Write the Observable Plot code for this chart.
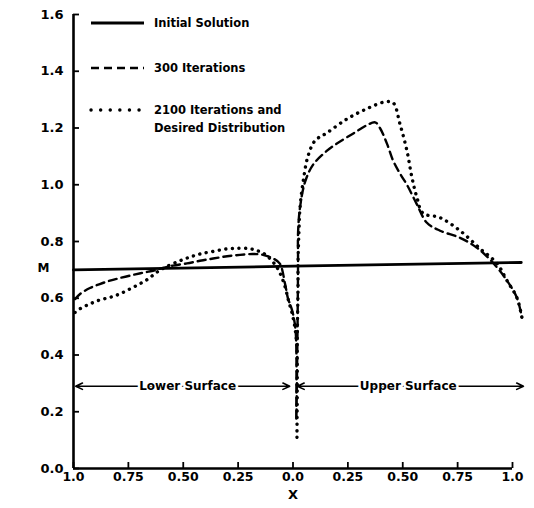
<!DOCTYPE html>
<html><head><meta charset="utf-8">
<script src="https://cdn.jsdelivr.net/npm/d3@7"></script>
<script src="https://cdn.jsdelivr.net/npm/@observablehq/plot@0.6"></script>
<style>
body{margin:0;background:#fff;}
#chart{position:relative;width:534px;height:508px;font-family:"DejaVu Sans",sans-serif;font-weight:bold;color:#000;}
#legend{position:absolute;left:0;top:0;width:534px;height:200px;pointer-events:none;}
.item{position:absolute;left:88px;display:flex;align-items:flex-start;font-size:11.5px;line-height:18px;}
.item svg{flex:none;margin-right:8px;}
</style></head><body>
<div id="chart"><div id="legend"></div></div>
<script>
// axis ticks
const xTicks = [-1, -0.75, -0.5, -0.25, 0, 0.25, 0.5, 0.75, 1];
const xTickLabels = ["1.0", "0.75", "0.50", "0.25", "0.0", "0.25", "0.50", "0.75", "1.0"];
const yTicks = [0, 0.2, 0.4, 0.6, 0.8, 1.0, 1.2, 1.4, 1.6];
const yTickLabels = ["0.0", "0.2", "0.4", "0.6", "0.8", "1.0", "1.2", "1.4", "1.6"];
const xDomain = [-1, 1];
const yDomain = [0, 1.6];
const xLabel = "X";
const yLabel = "M";

// series (x < 0: lower surface, x > 0: upper surface)
const seriesNames = ["Initial Solution", "300 Iterations", "2100 Iterations and|Desired Distribution"];
const initialSolution = [[-1, 0.700], [0, 0.713], [1.04, 0.726]];
const iterations300 = [
  [-0.993,0.597],[-0.97,0.615],[-0.925,0.636],[-0.88,0.65],[-0.834,0.662],[-0.79,0.671],[-0.73,0.682],
  [-0.683,0.69],[-0.638,0.697],[-0.592,0.707],[-0.547,0.715],[-0.483,0.723],[-0.424,0.732],[-0.364,0.74],
  [-0.30,0.748],[-0.241,0.753],[-0.182,0.756],[-0.137,0.753],[-0.09,0.74],[-0.06,0.722],[-0.036,0.65],
  [-0.023,0.60],[-0.005,0.56],[0.01,0.50],[0.015,0.43],[0.015,0.17],[0.02,0.45],[0.023,0.73],[0.023,0.83],
  [0.032,0.92],[0.055,1.01],[0.091,1.07],[0.155,1.12],[0.20,1.145],[0.273,1.18],[0.337,1.21],[0.374,1.22],
  [0.396,1.20],[0.428,1.145],[0.456,1.085],[0.487,1.04],[0.519,1.0],[0.565,0.93],[0.61,0.866],[0.67,0.838],
  [0.761,0.813],[0.838,0.778],[0.911,0.725],[0.975,0.662],[1.02,0.602],[1.043,0.532]
];
const iterations2100 = [
  [-0.993,0.55],[-0.97,0.563],[-0.925,0.58],[-0.88,0.594],[-0.834,0.603],[-0.79,0.615],[-0.745,0.632],
  [-0.70,0.65],[-0.66,0.668],[-0.62,0.692],[-0.575,0.712],[-0.515,0.732],[-0.47,0.745],[-0.424,0.756],
  [-0.364,0.765],[-0.30,0.774],[-0.25,0.776],[-0.20,0.775],[-0.164,0.768],[-0.128,0.755],[-0.085,0.722],
  [-0.06,0.69],[-0.036,0.64],[-0.02,0.59],[-0.005,0.55],[0.01,0.49],[0.018,0.42],[0.018,0.11],
  [0.02,0.49],[0.023,0.63],[0.023,0.73],[0.027,0.83],[0.032,0.92],[0.046,1.01],[0.068,1.10],[0.10,1.155],
  [0.155,1.183],[0.246,1.232],[0.337,1.268],[0.419,1.292],[0.456,1.289],[0.487,1.215],[0.519,1.12],
  [0.542,1.025],[0.565,0.954],[0.592,0.90],[0.67,0.884],[0.761,0.838],[0.852,0.775],[0.93,0.722],
  [0.975,0.662],[1.02,0.602],[1.043,0.532]
];

// surface annotations
const surfaceLabels = ["Lower Surface", "Upper Surface"];
const surfaceMid = [-0.48, 0.525];
const surfaceEnds = [[-0.99, -0.015], [0.02, 1.05]];
const surfaceLevel = 0.29;

const arrows = [];
surfaceLabels.forEach((s, i) => {
  surfaceEnds[i].forEach(e => arrows.push({x1: surfaceMid[i], x2: e, y: surfaceLevel}));
});
const labels = surfaceLabels.map((s, i) => ({x: surfaceMid[i], y: surfaceLevel, text: s}));

const toObj = a => a.map(([x, m]) => ({x, m}));
const tickFmt = (arr, labs) => d => labs[arr.findIndex(v => Math.abs(v - d) < 1e-9)];

const plot = Plot.plot({
  width: 534,
  height: 508,
  marginLeft: 73,
  marginRight: 22,
  marginTop: 14,
  marginBottom: 40,
  style: {fontFamily: "DejaVu Sans, sans-serif", fontWeight: "bold", fontSize: "12px", color: "#000", background: "#fff"},
  x: {domain: xDomain},
  y: {domain: yDomain},
  marks: [
    Plot.axisX({ticks: xTicks, tickFormat: tickFmt(xTicks, xTickLabels), tickSize: -6, tickPadding: 10, strokeWidth: 1.8, label: null, fontSize: 12.5}),
    Plot.axisY({ticks: yTicks, tickFormat: tickFmt(yTicks, yTickLabels), tickSize: -6, tickPadding: 16, strokeWidth: 1.8, label: null, fontSize: 13}),
    Plot.ruleX([xDomain[0]], {y1: yDomain[0], y2: yDomain[1], strokeWidth: 2.6}),
    Plot.ruleY([yDomain[0]], {x1: xDomain[0], x2: xDomain[1], strokeWidth: 2.6}),
    Plot.text([yLabel], {frameAnchor: "left", dx: -36, dy: 27, fontSize: 12, text: d => d}),
    Plot.text([xLabel], {frameAnchor: "bottom", dy: 30, fontSize: 13, text: d => d}),
    Plot.arrow(arrows, {x1: "x1", x2: "x2", y1: "y", y2: "y", strokeWidth: 1.6, headLength: 7, headAngle: 50}),
    Plot.text(labels, {x: "x", y: "y", text: "text", fontSize: 12, stroke: "white", strokeWidth: 5, paintOrder: "stroke", fill: "black"}),
    Plot.line(toObj(initialSolution), {x: "x", y: "m", strokeWidth: 2.8, stroke: "black"}),
    Plot.line(toObj(iterations300), {x: "x", y: "m", strokeWidth: 2.4, stroke: "black", strokeDasharray: "8,5", curve: "catmull-rom"}),
    Plot.line(toObj(iterations2100), {x: "x", y: "m", strokeWidth: 3.4, stroke: "black", strokeDasharray: "0.1,6.5", strokeLinecap: "round", curve: "catmull-rom"})
  ]
});
document.getElementById("chart").prepend(plot);

// legend
const legendStyles = [
  {dash: null, width: 2.8, cap: "butt"},
  {dash: "8,5", width: 2.4, cap: "butt"},
  {dash: "0.1,9.5", width: 3.4, cap: "round"}
];
const legendTops = [14, 59, 101];
const legend = document.getElementById("legend");
seriesNames.forEach((name, i) => {
  const div = document.createElement("div");
  div.className = "item";
  div.style.top = legendTops[i] + "px";
  const st = legendStyles[i];
  div.innerHTML = `<svg width="58" height="18"><line x1="3" x2="56" y1="9" y2="9" stroke="black" stroke-width="${st.width}" stroke-linecap="${st.cap}" ${st.dash ? `stroke-dasharray="${st.dash}"` : ""}/></svg><span>${name.split("|").join("<br>")}</span>`;
  legend.appendChild(div);
});
</script>
</body></html>
